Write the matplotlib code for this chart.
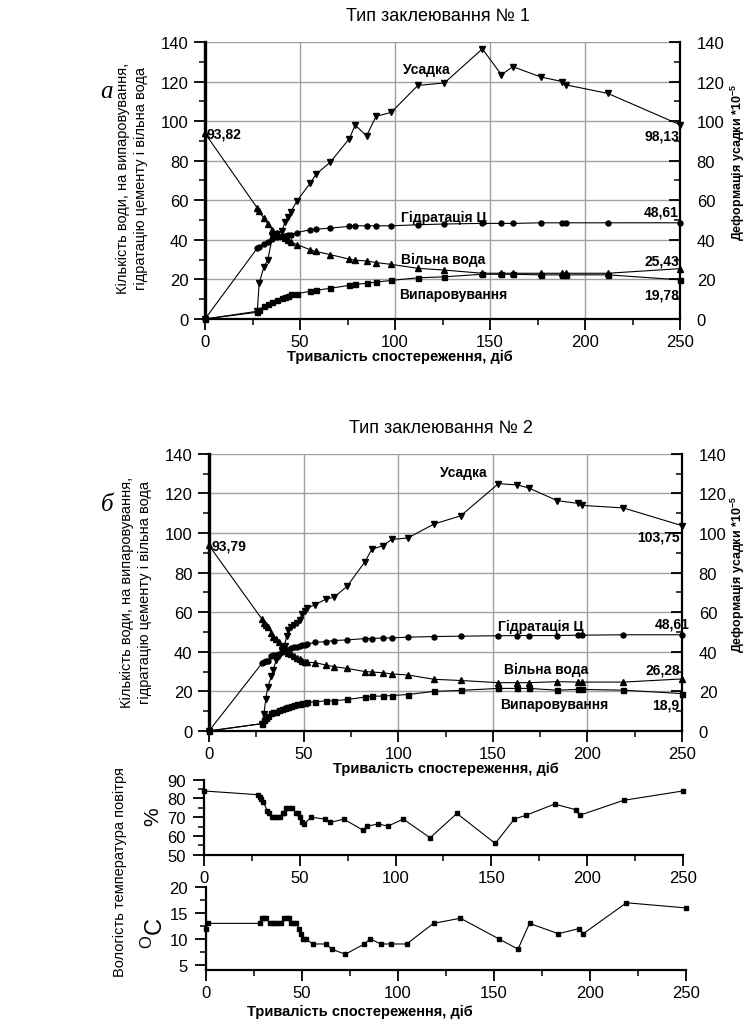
import matplotlib
matplotlib.use('Agg')
import matplotlib.pyplot as plt
from matplotlib.ticker import MultipleLocator

plt.rcParams['font.family'] = ['Liberation Sans', 'DejaVu Sans']
plt.rcParams['mathtext.fontset'] = 'custom'
plt.rcParams['mathtext.rm'] = 'Liberation Sans'
plt.rcParams['mathtext.bf'] = 'Liberation Sans:bold'

# ---- chart a (Тип заклеювання № 1) ----
days1 = [0, 27.5, 28.5, 31, 33, 35.5, 38, 40.5, 42, 43.5, 45, 48.5, 55.5, 58.5, 66,
         76, 79, 85, 90, 98, 112, 126, 146, 156, 162, 177, 188, 190, 212, 250]
shrink1 = [0, 3.9, 18, 26.4, 29.8, 41.7, 43, 44.4, 48.8, 51.4, 53.9, 59.8, 68.8, 73.2, 79.3,
           91.2, 98, 92.5, 102.4, 104.4, 118, 119.3, 136.5, 123.4, 127.5, 122.2, 120, 118.3, 114, 98.13]
hydr1 = [0, 35.8, 36.6, 38, 38.8, 40.5, 41.2, 41.8, 42, 42.3, 42.6, 43.7, 45.1, 45.4, 45.9,
         46.8, 47.1, 47.1, 47.1, 47.1, 47.6, 48, 48.3, 48.3, 48.3, 48.6, 48.6, 48.6, 48.6, 48.61]
free1 = [93.82, 56.1, 54.4, 50.8, 48, 45.1, 43.4, 42, 40.8, 40, 38.8, 37.6, 34.9, 34.1, 32.5,
         30.2, 29.7, 29.3, 28.5, 27.6, 25.6, 24.7, 23.1, 23.1, 23.1, 23.1, 23.1, 23.1, 23.1, 25.43]
evap1 = [0, 3.4, 4.5, 6.5, 7.5, 8.5, 9.5, 10.5, 11.2, 11.8, 12.4, 12.8, 14, 14.5, 15.5,
         17, 17.5, 18, 18.6, 19.5, 20.8, 21.3, 22.6, 22.6, 22.6, 22.3, 22.3, 22.3, 22.3, 19.78]

# ---- chart б (Тип заклеювання № 2) ----
days2 = [0, 28, 29, 30, 31, 33, 34, 35.5, 37, 38.5, 40, 41, 42, 43.5, 45, 46.5, 48, 49, 50.5, 52,
         56, 62, 66, 73, 82.5, 86, 92, 96.5, 105, 119, 133, 153, 163, 169, 184, 195, 197, 219, 250]
shrink2 = [0, 3.7, 8.6, 15.9, 22, 27.7, 31, 35.7, 38, 41, 43, 48, 51, 52.3, 53.5, 54.5, 56, 59, 60.7, 62,
           63.8, 66.7, 67.5, 73.1, 85.6, 91.7, 93.7, 96.8, 97.5, 104.6, 108.7, 125, 124.3, 122.8, 116.4,
           115, 114, 112.7, 103.75]
hydr2 = [0, 34.2, 34.9, 35.2, 35.5, 37.7, 38.2, 38.6, 39.1, 39.9, 40.4, 40.8, 41, 41.8, 42.2, 42.5, 43,
         43.3, 43.5, 44, 44.7, 45.2, 45.7, 46, 46.7, 46.7, 47, 47, 47.4, 47.7, 47.9, 48.1, 48.2, 48.2,
         48.2, 48.4, 48.4, 48.6, 48.61]
free2 = [93.79, 56.5, 54.8, 53.5, 52.3, 49.7, 47.7, 46.4, 44.7, 43, 41.3, 40.5, 39.6, 38.7, 37.9, 36.9,
         36.2, 35.5, 35, 34.7, 34.5, 33.3, 32.5, 31.6, 30, 29.8, 29.4, 28.8, 28.3, 26.1, 25.5, 24.4, 24.4,
         24.4, 24.9, 24.7, 24.7, 24.7, 26.28]
evap2 = [0, 3.7, 5.4, 6.6, 7.8, 9.1, 9.5, 9.8, 10.5, 11.2, 11.7, 12, 12.2, 12.5, 13.2, 13.5, 13.8, 14,
         14.3, 14.5, 14.7, 15.2, 15.2, 15.9, 17.1, 17.6, 17.6, 17.9, 18.4, 20, 20.5, 21.5, 21.5, 21.5,
         20.6, 21, 21, 20.6, 18.9]

# ---- air humidity and temperature ----
hum_days = [0, 28, 29, 30, 31, 33, 34, 35.5, 37, 38, 39.5, 41, 42, 43, 44.5, 46, 48, 49, 50, 51, 52,
            56, 63, 66, 73, 83, 85, 91, 96, 104, 118, 132, 152, 162, 168, 183, 194, 196, 219, 250]
humidity = [84, 82, 81, 79.7, 78, 73.5, 72.4, 70.3, 70, 70, 70, 72.2, 72.2, 75, 75, 75, 72.2, 72.2, 70,
            67.5, 66.2, 70, 69, 67.2, 69, 63, 65.2, 66.4, 65.2, 69, 59, 72, 56, 69, 71, 77, 74, 71, 79, 84]
temp_days = [0, 1, 28, 29, 30, 31, 33.5, 35, 36, 37.5, 39, 40.5, 42, 43, 44.5, 46, 47, 48.5, 49.5, 50.5,
             52, 55.5, 62.5, 65.5, 72.5, 82.5, 85.5, 91, 96.5, 104.5, 118.5, 132.5, 152.5, 162.5, 168.5,
             183.5, 194.5, 196.5, 219, 250]
temperature = [12, 13, 13, 14, 14, 14, 13, 13, 13, 13, 13, 14, 14, 14, 13, 13, 13, 12, 11, 10,
               10, 9, 9, 8, 7, 9, 10, 9, 9, 9, 13, 14, 10, 8, 13, 11, 12, 11, 17, 16]

xlab = 'Тривалість спостереження, діб'
ylab_water = 'Кількість води, на випаровування,\nгідратацію цементу і вільна вода'
ylab_shrink = r'Деформація усадки *10$^{\mathbf{-5}}$'

fig = plt.figure(figsize=(7.48, 10.2), dpi=100)

TICK_FS = 12
ANN_FS = 10


def style_ticks(ax, pad_left=4):
    ax.tick_params(axis='both', which='major', length=8, width=1.3, labelsize=TICK_FS, pad=pad_left)
    ax.tick_params(axis='both', which='minor', length=4, width=1.1)


def main_chart(rect, days, shrink, hydr, free, evap, title, labels, xlab_x):
    ax = fig.add_axes(rect)
    ax2 = ax.twinx()
    ax.set_xlim(0, 250)
    ax.set_ylim(0, 140)
    ax2.set_ylim(0, 140)
    ax.xaxis.set_major_locator(MultipleLocator(50))
    ax.xaxis.set_minor_locator(MultipleLocator(25))
    for a in (ax, ax2):
        a.yaxis.set_major_locator(MultipleLocator(20))
        a.yaxis.set_minor_locator(MultipleLocator(10))
    ax.grid(True, which='major', color='#a0a0a0', lw=1.0)
    ax.set_axisbelow(True)
    for a in (ax, ax2):
        a.spines['top'].set_visible(False)
    ax.spines['right'].set_visible(False)
    ax2.spines['left'].set_visible(False)
    ax.spines['left'].set_linewidth(2.4)
    ax.spines['bottom'].set_linewidth(1.6)
    ax2.spines['right'].set_linewidth(1.6)
    ax2.spines['bottom'].set_visible(False)
    style_ticks(ax, pad_left=4)
    ax.tick_params(axis='x', pad=3)
    ax2.tick_params(axis='y', which='major', direction='in', length=8, width=1.3,
                    labelsize=TICK_FS, pad=12)
    ax2.tick_params(axis='y', which='minor', direction='in', length=4, width=1.1)

    kw = dict(color='black', lw=0.8, clip_on=False)
    ax.plot(days, hydr, marker='o', ms=3.6, **kw)
    ax.plot(days, free, marker='^', ms=5, **kw)
    ax.plot(days, evap, marker='s', ms=3.6, **kw)
    ax2.plot(days, shrink, marker='v', ms=5, **kw)

    for (x, y, s, ha) in labels:
        ax.text(x, y, s, ha=ha, va='center', fontsize=ANN_FS, fontweight='bold', clip_on=False)

    ax.text(xlab_x, -37 / 277, xlab, transform=ax.transAxes, ha='center', va='center',
            fontsize=10.5, fontweight='bold')
    ax.text(0.49, 1.0 + 26 / 277, title, transform=ax.transAxes, ha='center', va='center',
            fontsize=13)
    return ax, ax2


labels1 = [
    (104, 126.5, 'Усадка', 'left'),
    (0.8, 93.6, '93,82', 'left'),
    (249.5, 92.6, '98,13', 'right'),
    (103, 51.6, 'Гідратація Ц', 'left'),
    (249.5, 54.3, '48,61', 'right'),
    (103, 30.4, 'Вільна вода', 'left'),
    (249.5, 29.5, '25,43', 'right'),
    (102, 12.6, 'Випаровування', 'left'),
    (249.5, 12.6, '19,78', 'right'),
]
labels2 = [
    (122, 131, 'Усадка', 'left'),
    (1.2, 93.9, '93,79', 'left'),
    (249, 98.1, '103,75', 'right'),
    (153, 53.2, 'Гідратація Ц', 'left'),
    (254, 54.5, '48,61', 'right'),
    (156, 31.3, 'Вільна вода', 'left'),
    (249, 31.0, '26,28', 'right'),
    (154, 13.6, 'Випаровування', 'left'),
    (248.7, 13.6, '18,9', 'right'),
]

main_chart([0.2741, 0.6863, 0.6350, 0.2716], days1, shrink1, hydr1, free1, evap1,
           'Тип заклеювання № 1', labels1, 0.41)
main_chart([0.2794, 0.2824, 0.6324, 0.2716], days2, shrink2, hydr2, free2, evap2,
           'Тип заклеювання № 2', labels2, 0.5)

# side labels
fig.text(132 / 748, 1 - 178 / 1020, ylab_water, rotation=90, ha='center', va='center',
         fontsize=10.5, linespacing=1.35)
fig.text(136 / 748, 1 - 592 / 1020, ylab_water, rotation=90, ha='center', va='center',
         fontsize=10.5, linespacing=1.35)
fig.text(738 / 748, 1 - 162 / 1020, ylab_shrink, rotation=90, ha='center', va='center',
         fontsize=9, fontweight='bold')
fig.text(738 / 748, 1 - 574 / 1020, ylab_shrink, rotation=90, ha='center', va='center',
         fontsize=9, fontweight='bold')
fig.text(107 / 748, 1 - 92 / 1020, 'а', family='Liberation Serif', style='italic',
         fontsize=18, ha='center', va='center')
fig.text(107 / 748, 1 - 505 / 1020, 'б', family='Liberation Serif', style='italic',
         fontsize=18, ha='center', va='center')

# humidity panel
ax3 = fig.add_axes([0.2727, 0.1611, 0.6404, 0.0735])
ax3.plot(hum_days, humidity, color='black', lw=0.8, marker='s', ms=3.2, clip_on=False)
ax3.set_xlim(0, 250)
ax3.set_ylim(50, 90)
ax3.yaxis.set_major_locator(MultipleLocator(10))
ax3.yaxis.set_minor_locator(MultipleLocator(5))

# temperature panel
ax4 = fig.add_axes([0.2754, 0.0483, 0.6417, 0.0808])
ax4.plot(temp_days, temperature, color='black', lw=0.8, marker='s', ms=3.2, clip_on=False)
ax4.set_xlim(0, 250)
ax4.set_ylim(4, 20)
ax4.yaxis.set_major_locator(MultipleLocator(5))
ax4.yaxis.set_minor_locator(MultipleLocator(2.5))

for a in (ax3, ax4):
    a.xaxis.set_major_locator(MultipleLocator(50))
    a.xaxis.set_minor_locator(MultipleLocator(25))
    a.spines['top'].set_visible(False)
    a.spines['right'].set_visible(False)
    a.spines['left'].set_linewidth(1.6)
    a.spines['bottom'].set_linewidth(1.6)
    style_ticks(a, pad_left=5)
    a.tick_params(axis='x', pad=3)

ax4.text(0.32, -41 / 82.4, xlab, transform=ax4.transAxes, ha='center', va='center',
         fontsize=10.5, fontweight='bold')
fig.text(120 / 748, 1 - 872 / 1020, 'Вологість температура повітря', rotation=90,
         ha='center', va='center', fontsize=10.5)
fig.text(153 / 748, 1 - 817 / 1020, '%', rotation=90, ha='center', va='center', fontsize=15)
fig.text(155 / 748, 1 - 933 / 1020, r'$^{\mathrm{O}}$C', rotation=90, ha='center', va='center',
         fontsize=17)

fig.savefig('out.png', dpi=100)
